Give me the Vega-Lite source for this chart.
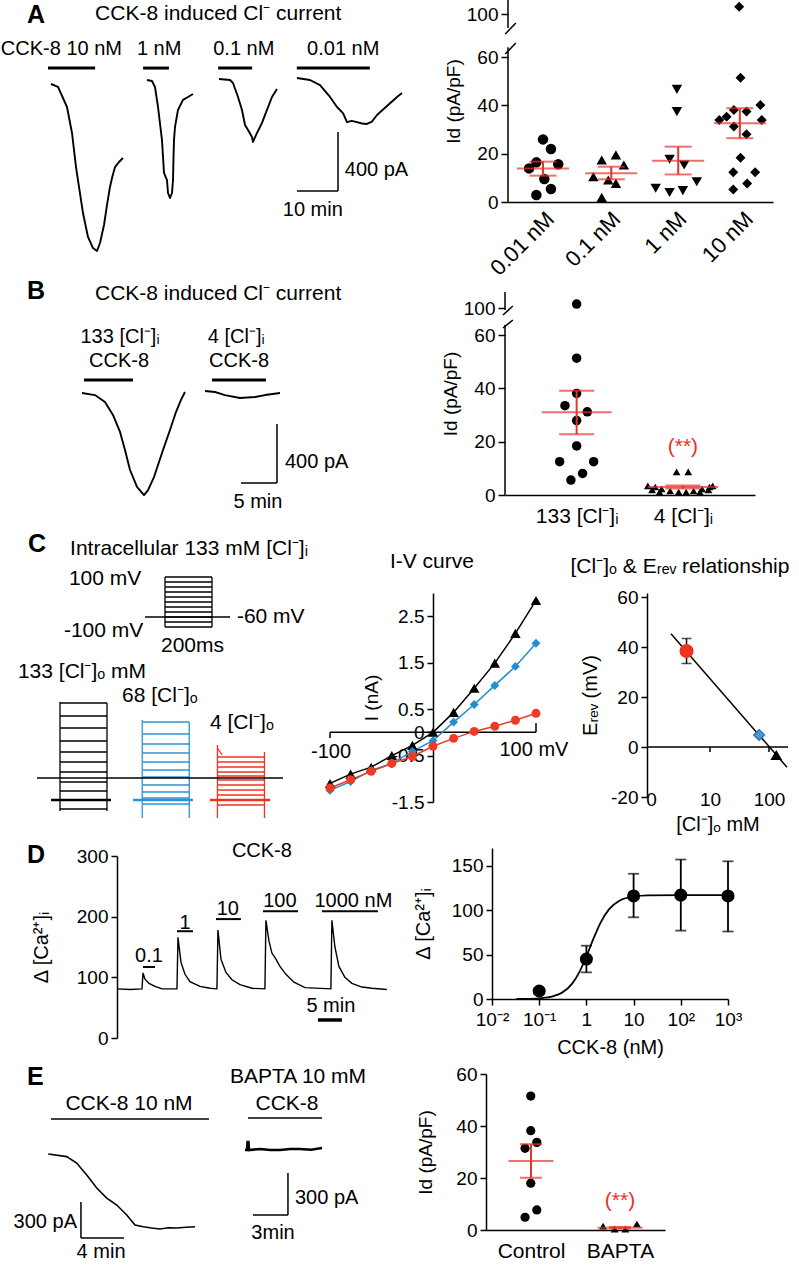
{
"$schema":"https://vega.github.io/schema/vega-lite/v6.json",
"width":799,"height":1265,"padding":0,"autosize":{"type":"none"},"background":"white",
"config":{"view":{"stroke":null},
"axis":{"grid":false,"labelFont":"Liberation Sans, Arial, sans-serif","labelFontSize":19,"labelColor":"black","titleFont":"Liberation Sans, Arial, sans-serif","titleFontSize":19,"titleFontWeight":"normal","titleColor":"black","domainColor":"black","domainWidth":1.5,"tickColor":"black","tickWidth":1.5,"tickSize":6,"labelFlush":false,"labelOverlap":false,"labelPadding":3},
"text":{"font":"Liberation Sans, Arial, sans-serif","fontSize":20,"color":"black"},
"point":{"filled":true,"color":"black","opacity":1,"strokeWidth":0}},
"resolve":{"scale":{"x":"independent","y":"independent"},"axis":{"x":"independent","y":"independent"}},
"layer":[
{"data":{"values":[
{"k":"tr","s":"a","min":12.44,"pA":0},{"k":"tr","s":"a","min":14.15,"pA":-20},{"k":"tr","s":"a","min":16.34,"pA":-156},{"k":"tr","s":"a","min":17.56,"pA":-332},{"k":"tr","s":"a","min":18.54,"pA":-563},{"k":"tr","s":"a","min":19.02,"pA":-651},{"k":"tr","s":"a","min":20.24,"pA":-875},{"k":"tr","s":"a","min":21.46,"pA":-1037},{"k":"tr","s":"a","min":22.68,"pA":-1112},{"k":"tr","s":"a","min":23.66,"pA":-1132},{"k":"tr","s":"a","min":24.39,"pA":-1078},{"k":"tr","s":"a","min":25.37,"pA":-956},{"k":"tr","s":"a","min":26.1,"pA":-820},{"k":"tr","s":"a","min":26.83,"pA":-698},{"k":"tr","s":"a","min":27.32,"pA":-637},{"k":"tr","s":"a","min":28.05,"pA":-563},{"k":"tr","s":"a","min":29.02,"pA":-529},{"k":"tr","s":"a","min":30.0,"pA":-502},
{"k":"tr","s":"b","min":35.85,"pA":27},{"k":"tr","s":"b","min":37.07,"pA":20},{"k":"tr","s":"b","min":37.8,"pA":-20},{"k":"tr","s":"b","min":38.54,"pA":-156},{"k":"tr","s":"b","min":39.51,"pA":-380},{"k":"tr","s":"b","min":40.0,"pA":-603},{"k":"tr","s":"b","min":40.73,"pA":-651},{"k":"tr","s":"b","min":40.98,"pA":-739},{"k":"tr","s":"b","min":41.46,"pA":-773},{"k":"tr","s":"b","min":41.95,"pA":-739},{"k":"tr","s":"b","min":42.2,"pA":-651},{"k":"tr","s":"b","min":42.3,"pA":-515},{"k":"tr","s":"b","min":42.44,"pA":-380},{"k":"tr","s":"b","min":42.68,"pA":-292},{"k":"tr","s":"b","min":43.41,"pA":-176},{"k":"tr","s":"b","min":44.63,"pA":-108},{"k":"tr","s":"b","min":45.85,"pA":-88},{"k":"tr","s":"b","min":47.07,"pA":-68},
{"k":"tr","s":"c","min":53.41,"pA":34},{"k":"tr","s":"c","min":56.1,"pA":27},{"k":"tr","s":"c","min":56.83,"pA":7},{"k":"tr","s":"c","min":58.05,"pA":-88},{"k":"tr","s":"c","min":59.02,"pA":-176},{"k":"tr","s":"c","min":59.76,"pA":-278},{"k":"tr","s":"c","min":60.49,"pA":-312},{"k":"tr","s":"c","min":61.46,"pA":-359},{"k":"tr","s":"c","min":61.71,"pA":-393},{"k":"tr","s":"c","min":62.68,"pA":-332},{"k":"tr","s":"c","min":63.9,"pA":-264},{"k":"tr","s":"c","min":65.12,"pA":-176},{"k":"tr","s":"c","min":66.34,"pA":-88},{"k":"tr","s":"c","min":67.56,"pA":-34},
{"k":"tr","s":"d","min":72.44,"pA":41},{"k":"tr","s":"d","min":75.61,"pA":27},{"k":"tr","s":"d","min":78.05,"pA":-7},{"k":"tr","s":"d","min":80.49,"pA":-88},{"k":"tr","s":"d","min":82.2,"pA":-156},{"k":"tr","s":"d","min":83.66,"pA":-197},{"k":"tr","s":"d","min":84.63,"pA":-258},{"k":"tr","s":"d","min":85.8,"pA":-250},{"k":"tr","s":"d","min":87.07,"pA":-258},{"k":"tr","s":"d","min":88.3,"pA":-268},{"k":"tr","s":"d","min":89.51,"pA":-271},{"k":"tr","s":"d","min":90.7,"pA":-255},{"k":"tr","s":"d","min":91.95,"pA":-210},{"k":"tr","s":"d","min":94.39,"pA":-149},{"k":"tr","s":"d","min":96.83,"pA":-88},{"k":"tr","s":"d","min":98.05,"pA":-61},
{"k":"bar","min":11.7,"min2":23.2,"pA":108,"pA2":108},{"k":"bar","min":34.9,"min2":41.2,"pA":108,"pA2":108},{"k":"bar","min":53.2,"min2":61.5,"pA":108,"pA2":108},{"k":"bar","min":72.4,"min2":90.2,"pA":108,"pA2":108},
{"k":"sb","min":82.44,"min2":82.44,"pA":-325,"pA2":-725},{"k":"sb","min":72.44,"min2":82.44,"pA":-725,"pA2":-725},
{"k":"let","txt":"A","min":6.6,"pA":414},
{"k":"ttl","txt":"CCK-8 induced Cl⁻ current","min":23.2,"pA":434},
{"k":"lab","txt":"CCK-8 10 nM","min":0.2,"pA":197},{"k":"lab","txt":"1 nM","min":33.4,"pA":197},{"k":"lab","txt":"0.1 nM","min":52.0,"pA":197},{"k":"lab","txt":"0.01 nM","min":74.9,"pA":197},
{"k":"lab","txt":"400 pA","min":84.1,"pA":-624},
{"k":"labc","txt":"10 min","min":76.3,"pA":-895}
]},
"encoding":{"x":{"field":"min","type":"quantitative","scale":{"domain":[0,100],"range":[0,410],"nice":false,"zero":false},"axis":null},
"y":{"field":"pA","type":"quantitative","scale":{"domain":[0,-1200],"range":[84,261],"nice":false,"zero":false},"axis":null}},
"layer":[
{"transform":[{"filter":"datum.k=='tr'"}],"mark":{"type":"line","color":"black","strokeWidth":1.9,"strokeJoin":"round"},"encoding":{"detail":{"field":"s","type":"nominal"}}},
{"transform":[{"filter":"datum.k=='bar'"}],"mark":{"type":"rule","color":"black","strokeWidth":3},"encoding":{"x2":{"field":"min2"},"y2":{"field":"pA2"}}},
{"transform":[{"filter":"datum.k=='sb'"}],"mark":{"type":"rule","color":"black","strokeWidth":1.5},"encoding":{"x2":{"field":"min2"},"y2":{"field":"pA2"}}},
{"transform":[{"filter":"datum.k=='let'"}],"mark":{"type":"text","align":"left","baseline":"alphabetic","fontSize":25,"fontWeight":"bold"},"encoding":{"text":{"field":"txt"}}},
{"transform":[{"filter":"datum.k=='ttl'"}],"mark":{"type":"text","align":"left","baseline":"alphabetic","fontSize":21},"encoding":{"text":{"field":"txt"}}},
{"transform":[{"filter":"datum.k=='lab'"}],"mark":{"type":"text","align":"left","baseline":"alphabetic","fontSize":20},"encoding":{"text":{"field":"txt"}}},
{"transform":[{"filter":"datum.k=='labc'"}],"mark":{"type":"text","align":"center","baseline":"alphabetic","fontSize":20},"encoding":{"text":{"field":"txt"}}}
]},

{"data":{"values":[
{"k":"p","g":"a","pos":-0.21,"Id":13.9},{"k":"p","g":"a","pos":-0.10,"Id":16.4},{"k":"p","g":"a","pos":0.0,"Id":25.9},{"k":"p","g":"a","pos":0.12,"Id":21.9},{"k":"p","g":"a","pos":0.23,"Id":15.6},{"k":"p","g":"a","pos":0.02,"Id":9.5},{"k":"p","g":"a","pos":0.12,"Id":5.4},{"k":"p","g":"a","pos":-0.10,"Id":2.9},
{"k":"p","g":"b","pos":0.886,"Id":17.4},{"k":"p","g":"b","pos":1.10,"Id":19.5},{"k":"p","g":"b","pos":1.22,"Id":15.3},{"k":"p","g":"b","pos":0.76,"Id":10.5},{"k":"p","g":"b","pos":0.985,"Id":9.1},{"k":"p","g":"b","pos":1.10,"Id":7.7},{"k":"p","g":"b","pos":0.886,"Id":1.9},
{"k":"p","g":"c","pos":2.02,"Id":46.6},{"k":"p","g":"c","pos":2.02,"Id":37.4},{"k":"p","g":"c","pos":1.91,"Id":17.7},{"k":"p","g":"c","pos":2.13,"Id":15.3},{"k":"p","g":"c","pos":1.70,"Id":5.7},{"k":"p","g":"c","pos":1.91,"Id":3.9},{"k":"p","g":"c","pos":2.11,"Id":4.7},{"k":"p","g":"c","pos":2.32,"Id":8.4},
{"k":"p","g":"d","pos":2.96,"Id":106.8},{"k":"p","g":"d","pos":2.98,"Id":51.4},{"k":"p","g":"d","pos":2.66,"Id":33.9},{"k":"p","g":"d","pos":2.77,"Id":35.3},{"k":"p","g":"d","pos":2.88,"Id":31.2},{"k":"p","g":"d","pos":2.88,"Id":38.1},{"k":"p","g":"d","pos":3.07,"Id":37.4},{"k":"p","g":"d","pos":3.28,"Id":40.1},{"k":"p","g":"d","pos":3.30,"Id":33.9},{"k":"p","g":"d","pos":3.07,"Id":28.0},{"k":"p","g":"d","pos":2.98,"Id":18.3},{"k":"p","g":"d","pos":2.87,"Id":12.3},{"k":"p","g":"d","pos":3.20,"Id":12.3},{"k":"p","g":"d","pos":3.08,"Id":7.7},{"k":"p","g":"d","pos":2.87,"Id":5.2},
{"k":"m","pos":0.0,"Id":13.9},{"k":"m","pos":1.03,"Id":11.9},{"k":"m","pos":2.04,"Id":17.1},{"k":"m","pos":2.97,"Id":32.6},
{"k":"c","pos":0.0,"Id":10.9},{"k":"c","pos":0.0,"Id":16.7},{"k":"c","pos":1.03,"Id":9.4},{"k":"c","pos":1.03,"Id":14.6},{"k":"c","pos":2.04,"Id":11.4},{"k":"c","pos":2.04,"Id":22.9},{"k":"c","pos":2.97,"Id":26.4},{"k":"c","pos":2.97,"Id":38.8},
{"k":"e","pos":0.0,"Id":10.9,"Id2":16.7},{"k":"e","pos":1.03,"Id":9.4,"Id2":14.6},{"k":"e","pos":2.04,"Id":11.4,"Id2":22.9},{"k":"e","pos":2.97,"Id":26.4,"Id2":38.8},
{"k":"ax","pos":-0.528,"pos2":-0.528,"Id":0,"Id2":69},{"k":"ax","pos":-0.528,"pos2":-0.528,"Id":87,"Id2":113},{"k":"ax","pos":-0.57,"pos2":-0.41,"Id":62.8,"Id2":73},{"k":"ax","pos":-0.57,"pos2":-0.41,"Id":81.4,"Id2":91.6}
]},
"encoding":{"x":{"field":"pos","type":"quantitative","scale":{"domain":[-0.528,3.47],"range":[508,773],"nice":false,"zero":false},
"axis":{"orient":"bottom","offset":-1063,"values":[0,1,2,3],"labelExpr":"['0.01 nM','0.1 nM','1 nM','10 nM'][datum.value]","labelAngle":-45,"labelFontSize":22,"ticks":false,"tickSize":0,"labelPadding":6,"title":null}},
"y":{"field":"Id","type":"quantitative","scale":{"domain":[0,60,100,113],"range":[202,57,14,0],"nice":false,"zero":false},
"axis":{"orient":"left","offset":-508,"values":[0,20,40,60,100],"domain":false,"tickSize":7,"title":"Id (pA/pF)","titlePadding":3}}},
"layer":[
{"transform":[{"filter":"datum.k=='ax'"}],"mark":{"type":"rule","color":"black","strokeWidth":1.5},"encoding":{"x2":{"field":"pos2"},"y2":{"field":"Id2"}}},
{"transform":[{"filter":"datum.g=='a'"}],"mark":{"type":"point","shape":"circle","size":110}},
{"transform":[{"filter":"datum.g=='b'"}],"mark":{"type":"point","shape":"triangle-up","size":110}},
{"transform":[{"filter":"datum.g=='c'"}],"mark":{"type":"point","shape":"triangle-down","size":110}},
{"transform":[{"filter":"datum.g=='d'"}],"mark":{"type":"point","shape":"diamond","size":100}},
{"transform":[{"filter":"datum.k=='e'"}],"mark":{"type":"rule","color":"#e8322b","strokeWidth":2},"encoding":{"y2":{"field":"Id2"}}},
{"transform":[{"filter":"datum.k=='m'"}],"mark":{"type":"tick","orient":"horizontal","color":"#e8322b","size":52,"thickness":2}},
{"transform":[{"filter":"datum.k=='c'"}],"mark":{"type":"tick","orient":"horizontal","color":"#e8322b","size":27,"thickness":2}}
]},

{"data":{"values":[
{"k":"tr","s":"a","min":11.39,"pA":0},{"k":"tr","s":"a","min":13.19,"pA":-14},{"k":"tr","s":"a","min":14.58,"pA":-61},{"k":"tr","s":"a","min":15.69,"pA":-149},{"k":"tr","s":"a","min":16.67,"pA":-264},{"k":"tr","s":"a","min":17.36,"pA":-386},{"k":"tr","s":"a","min":18.06,"pA":-522},{"k":"tr","s":"a","min":19.03,"pA":-637},{"k":"tr","s":"a","min":20.0,"pA":-692},{"k":"tr","s":"a","min":20.56,"pA":-658},{"k":"tr","s":"a","min":21.39,"pA":-570},{"k":"tr","s":"a","min":22.64,"pA":-386},{"k":"tr","s":"a","min":23.61,"pA":-251},{"k":"tr","s":"a","min":24.44,"pA":-129},{"k":"tr","s":"a","min":25.14,"pA":-47},{"k":"tr","s":"a","min":25.69,"pA":7},
{"k":"tr","s":"b","min":28.47,"pA":14},{"k":"tr","s":"b","min":29.86,"pA":7},{"k":"tr","s":"b","min":31.25,"pA":-14},{"k":"tr","s":"b","min":33.33,"pA":-34},{"k":"tr","s":"b","min":35.42,"pA":-27},{"k":"tr","s":"b","min":36.81,"pA":-14},{"k":"tr","s":"b","min":38.89,"pA":0},
{"k":"bar","min":11.67,"min2":18.47,"pA":88,"pA2":88},{"k":"bar","min":29.44,"min2":36.94,"pA":88,"pA2":88},
{"k":"sb","min":38.47,"min2":38.47,"pA":-210,"pA2":-610},{"k":"sb","min":33.47,"min2":38.47,"pA":-610,"pA2":-610},
{"k":"let","txt":"B","min":3.75,"pA":637},
{"k":"ttl","txt":"CCK-8 induced Cl⁻ current","min":13.19,"pA":631},
{"k":"labm","txt":"133 [Cl⁻]ᵢ","min":16.67,"pA":380},{"k":"labm","txt":"CCK-8","min":16.53,"pA":217},{"k":"labm","txt":"4 [Cl⁻]ᵢ","min":32.8,"pA":380},{"k":"labm","txt":"CCK-8","min":33.2,"pA":217},{"k":"labm","txt":"5 min","min":35.83,"pA":-739},
{"k":"labl","txt":"400 pA","min":39.58,"pA":-468}
]},
"encoding":{"x":{"field":"min","type":"quantitative","scale":{"domain":[0,50],"range":[0,360],"nice":false,"zero":false},"axis":null},
"y":{"field":"pA","type":"quantitative","scale":{"domain":[0,-1000],"range":[393,540.5],"nice":false,"zero":false},"axis":null}},
"layer":[
{"transform":[{"filter":"datum.k=='tr'"}],"mark":{"type":"line","color":"black","strokeWidth":1.9,"strokeJoin":"round"},"encoding":{"detail":{"field":"s","type":"nominal"}}},
{"transform":[{"filter":"datum.k=='bar'"}],"mark":{"type":"rule","color":"black","strokeWidth":3},"encoding":{"x2":{"field":"min2"},"y2":{"field":"pA2"}}},
{"transform":[{"filter":"datum.k=='sb'"}],"mark":{"type":"rule","color":"black","strokeWidth":1.5},"encoding":{"x2":{"field":"min2"},"y2":{"field":"pA2"}}},
{"transform":[{"filter":"datum.k=='let'"}],"mark":{"type":"text","align":"left","baseline":"alphabetic","fontSize":25,"fontWeight":"bold"},"encoding":{"text":{"field":"txt"}}},
{"transform":[{"filter":"datum.k=='ttl'"}],"mark":{"type":"text","align":"left","baseline":"alphabetic","fontSize":21},"encoding":{"text":{"field":"txt"}}},
{"transform":[{"filter":"datum.k=='labm'"}],"mark":{"type":"text","align":"center","baseline":"middle","fontSize":20},"encoding":{"text":{"field":"txt"}}},
{"transform":[{"filter":"datum.k=='labl'"}],"mark":{"type":"text","align":"left","baseline":"middle","fontSize":20},"encoding":{"text":{"field":"txt"}}}
]},

{"data":{"values":[
{"k":"p","g":"a","pos":0,"Id":105.9},{"k":"p","g":"a","pos":0,"Id":51.3},{"k":"p","g":"a","pos":0,"Id":38.1},{"k":"p","g":"a","pos":-0.11,"Id":33.5},{"k":"p","g":"a","pos":0.10,"Id":31.2},{"k":"p","g":"a","pos":0,"Id":27.9},{"k":"p","g":"a","pos":0,"Id":18.4},{"k":"p","g":"a","pos":-0.16,"Id":12.5},{"k":"p","g":"a","pos":0.16,"Id":12.5},{"k":"p","g":"a","pos":0.056,"Id":8.1},{"k":"p","g":"a","pos":-0.054,"Id":5.6},
{"k":"p","g":"b","pos":0.94,"Id":8.7},{"k":"p","g":"b","pos":1.05,"Id":8.7},{"k":"p","g":"b","pos":0.67,"Id":3.4},{"k":"p","g":"b","pos":0.74,"Id":3.0},{"k":"p","g":"b","pos":0.80,"Id":2.25},{"k":"p","g":"b","pos":0.88,"Id":1.5},{"k":"p","g":"b","pos":0.96,"Id":1.1},{"k":"p","g":"b","pos":1.03,"Id":1.1},{"k":"p","g":"b","pos":1.10,"Id":1.5},{"k":"p","g":"b","pos":1.18,"Id":2.25},{"k":"p","g":"b","pos":1.25,"Id":3.0},{"k":"p","g":"b","pos":1.28,"Id":3.4},{"k":"p","g":"b","pos":0.71,"Id":1.9},{"k":"p","g":"b","pos":0.78,"Id":1.1},{"k":"p","g":"b","pos":1.16,"Id":1.1},{"k":"p","g":"b","pos":1.24,"Id":1.9},
{"k":"m","pos":0,"Id":31.0},{"k":"m","pos":1.0,"Id":3.0},
{"k":"c","pos":0,"Id":22.8},{"k":"c","pos":0,"Id":39.1},{"k":"c","pos":1.0,"Id":2.4},{"k":"c","pos":1.0,"Id":3.6},
{"k":"e","pos":0,"Id":22.8,"Id2":39.1},{"k":"e","pos":1.0,"Id":2.4,"Id2":3.6},
{"k":"ax","pos":-0.674,"pos2":-0.674,"Id":0,"Id2":74.8},{"k":"ax","pos":-0.674,"pos2":-0.674,"Id":97,"Id2":124},{"k":"ax","pos":-0.693,"pos2":-0.60,"Id":70.4,"Id2":82.2},{"k":"ax","pos":-0.693,"pos2":-0.60,"Id":89.6,"Id2":103},
{"k":"st","txt":"(**)","pos":1.0,"Id":18}
]},
"encoding":{"x":{"field":"pos","type":"quantitative","scale":{"domain":[-0.674,1.678],"range":[505,755],"nice":false,"zero":false},
"axis":{"orient":"bottom","offset":-770,"values":[0,1],"labelExpr":"['133 [Cl⁻]ᵢ','4 [Cl⁻]ᵢ'][datum.value]","labelFontSize":21,"labelAngle":0,"ticks":false,"tickSize":0,"labelPadding":10,"title":null}},
"y":{"field":"Id","type":"quantitative","scale":{"domain":[0,60,100,124],"range":[495,335,308,292],"nice":false,"zero":false},
"axis":{"orient":"left","offset":-505,"values":[0,20,40,60,100],"domain":false,"tickSize":7,"title":"Id (pA/pF)","titlePadding":3}}},
"layer":[
{"transform":[{"filter":"datum.k=='ax'"}],"mark":{"type":"rule","color":"black","strokeWidth":1.5},"encoding":{"x2":{"field":"pos2"},"y2":{"field":"Id2"}}},
{"transform":[{"filter":"datum.g=='a'"}],"mark":{"type":"point","shape":"circle","size":90}},
{"transform":[{"filter":"datum.g=='b'"}],"mark":{"type":"point","shape":"triangle-up","size":60}},
{"transform":[{"filter":"datum.k=='e'"}],"mark":{"type":"rule","color":"#e8322b","strokeWidth":2},"encoding":{"y2":{"field":"Id2"}}},
{"transform":[{"filter":"datum.k=='m'"}],"mark":{"type":"tick","orient":"horizontal","color":"#e8322b","size":70,"thickness":2}},
{"transform":[{"filter":"datum.k=='c'"}],"mark":{"type":"tick","orient":"horizontal","color":"#e8322b","size":35,"thickness":2}},
{"transform":[{"filter":"datum.k=='st'"}],"mark":{"type":"text","align":"center","baseline":"middle","fontSize":21,"color":"#e8322b"},"encoding":{"text":{"field":"txt"}}}
]},

{"data":{"values":[
{"k":"st","ms":0,"ms2":200,"mV":-100,"mV2":-100},{"k":"st","ms":0,"ms2":200,"mV":-80,"mV2":-80},{"k":"st","ms":0,"ms2":200,"mV":-60,"mV2":-60},{"k":"st","ms":0,"ms2":200,"mV":-40,"mV2":-40},{"k":"st","ms":0,"ms2":200,"mV":-20,"mV2":-20},{"k":"st","ms":0,"ms2":200,"mV":0,"mV2":0},{"k":"st","ms":0,"ms2":200,"mV":20,"mV2":20},{"k":"st","ms":0,"ms2":200,"mV":40,"mV2":40},{"k":"st","ms":0,"ms2":200,"mV":60,"mV2":60},{"k":"st","ms":0,"ms2":200,"mV":80,"mV2":80},{"k":"st","ms":0,"ms2":200,"mV":100,"mV2":100},
{"k":"st","ms":0,"ms2":0,"mV":-100,"mV2":100},{"k":"st","ms":200,"ms2":200,"mV":-100,"mV2":100},{"k":"st","ms":-85,"ms2":277,"mV":-60,"mV2":-60},
{"k":"let","txt":"C","ms":-583,"mV":200},
{"k":"ttl","txt":"Intracellular 133 mM [Cl⁻]ᵢ","ms":-404,"mV":188},
{"k":"lab","txt":"100 mV","ms":-409,"mV":68},{"k":"lab","txt":"-100 mV","ms":-430,"mV":-140},{"k":"lab","txt":"-60 mV","ms":306,"mV":-84},{"k":"lab","txt":"200ms","ms":-17,"mV":-200}
]},
"encoding":{"x":{"field":"ms","type":"quantitative","scale":{"domain":[0,200],"range":[165,212],"nice":false,"zero":false},"axis":null},
"y":{"field":"mV","type":"quantitative","scale":{"domain":[-100,100],"range":[627,577],"nice":false,"zero":false},"axis":null}},
"layer":[
{"transform":[{"filter":"datum.k=='st'"}],"mark":{"type":"rule","color":"black","strokeWidth":1.3},"encoding":{"x2":{"field":"ms2"},"y2":{"field":"mV2"}}},
{"transform":[{"filter":"datum.k=='let'"}],"mark":{"type":"text","align":"left","baseline":"alphabetic","fontSize":25,"fontWeight":"bold"},"encoding":{"text":{"field":"txt"}}},
{"transform":[{"filter":"datum.k=='ttl'"}],"mark":{"type":"text","align":"left","baseline":"alphabetic","fontSize":21},"encoding":{"text":{"field":"txt"}}},
{"transform":[{"filter":"datum.k=='lab'"}],"mark":{"type":"text","align":"left","baseline":"alphabetic","fontSize":21},"encoding":{"text":{"field":"txt"}}}
]},

{"data":{"values":[
{"k":"swk","ms":0,"ms2":200,"nA":7.5,"nA2":7.5},{"k":"swk","ms":0,"ms2":200,"nA":6.2,"nA2":6.2},{"k":"swk","ms":0,"ms2":200,"nA":5.0,"nA2":5.0},{"k":"swk","ms":0,"ms2":200,"nA":3.7,"nA2":3.7},{"k":"swk","ms":0,"ms2":200,"nA":2.6,"nA2":2.6},{"k":"swk","ms":0,"ms2":200,"nA":1.6,"nA2":1.6},{"k":"swk","ms":0,"ms2":200,"nA":0.6,"nA2":0.6},{"k":"swk","ms":0,"ms2":200,"nA":-0.4,"nA2":-0.4},{"k":"swk","ms":0,"ms2":200,"nA":-1.3,"nA2":-1.3},{"k":"swk","ms":0,"ms2":200,"nA":-2.2,"nA2":-2.2},{"k":"swk","ms":0,"ms2":200,"nA":-3.1,"nA2":-3.1},
{"k":"swk","ms":0,"ms2":0,"nA":7.6,"nA2":-3.3},{"k":"swk","ms":200,"ms2":200,"nA":7.5,"nA2":-3.3},
{"k":"swb","ms":350,"ms2":550,"nA":5.6,"nA2":5.6},{"k":"swb","ms":350,"ms2":550,"nA":4.4,"nA2":4.4},{"k":"swb","ms":350,"ms2":550,"nA":3.4,"nA2":3.4},{"k":"swb","ms":350,"ms2":550,"nA":2.5,"nA2":2.5},{"k":"swb","ms":350,"ms2":550,"nA":1.6,"nA2":1.6},{"k":"swb","ms":350,"ms2":550,"nA":0.8,"nA2":0.8},{"k":"swb","ms":350,"ms2":550,"nA":0.1,"nA2":0.1},{"k":"swb","ms":350,"ms2":550,"nA":-0.7,"nA2":-0.7},{"k":"swb","ms":350,"ms2":550,"nA":-1.4,"nA2":-1.4},{"k":"swb","ms":350,"ms2":550,"nA":-2.0,"nA2":-2.0},{"k":"swb","ms":350,"ms2":550,"nA":-2.6,"nA2":-2.6},
{"k":"swb","ms":350,"ms2":350,"nA":5.8,"nA2":-4.0},{"k":"swb","ms":550,"ms2":550,"nA":5.6,"nA2":-4.0},
{"k":"swr","ms":670,"ms2":870,"nA":2.1,"nA2":2.1},{"k":"swr","ms":670,"ms2":870,"nA":1.6,"nA2":1.6},{"k":"swr","ms":670,"ms2":870,"nA":1.1,"nA2":1.1},{"k":"swr","ms":670,"ms2":870,"nA":0.6,"nA2":0.6},{"k":"swr","ms":670,"ms2":870,"nA":0.2,"nA2":0.2},{"k":"swr","ms":670,"ms2":870,"nA":-0.2,"nA2":-0.2},{"k":"swr","ms":670,"ms2":870,"nA":-0.7,"nA2":-0.7},{"k":"swr","ms":670,"ms2":870,"nA":-1.2,"nA2":-1.2},{"k":"swr","ms":670,"ms2":870,"nA":-1.7,"nA2":-1.7},{"k":"swr","ms":670,"ms2":870,"nA":-2.2,"nA2":-2.2},{"k":"swr","ms":670,"ms2":870,"nA":-2.7,"nA2":-2.7},
{"k":"swr","ms":670,"ms2":670,"nA":3.3,"nA2":-4.0},{"k":"swr","ms":870,"ms2":870,"nA":2.6,"nA2":-4.0},{"k":"swr","ms":670,"ms2":690,"nA":3.0,"nA2":2.3},
{"k":"hk","ms":-38,"ms2":217,"nA":-2.2,"nA2":-2.2},{"k":"hb","ms":311,"ms2":566,"nA":-2.2,"nA2":-2.2},{"k":"hr","ms":638,"ms2":894,"nA":-2.2,"nA2":-2.2},
{"k":"ref","ms":-98,"ms2":949,"nA":0,"nA2":0},
{"k":"lab","txt":"133 [Cl⁻]ₒ mM","ms":-179,"nA":10.0},{"k":"lab","txt":"68 [Cl⁻]ₒ","ms":264,"nA":7.6},{"k":"lab","txt":"4 [Cl⁻]ₒ","ms":638,"nA":4.9}
]},
"encoding":{"x":{"field":"ms","type":"quantitative","scale":{"domain":[0,200],"range":[60,107],"nice":false,"zero":false},"axis":null},
"y":{"field":"nA","type":"quantitative","scale":{"domain":[0,7.5],"range":[778,703],"nice":false,"zero":false},"axis":null}},
"layer":[
{"transform":[{"filter":"datum.k=='swk'"}],"mark":{"type":"rule","color":"black","strokeWidth":1.3},"encoding":{"x2":{"field":"ms2"},"y2":{"field":"nA2"}}},
{"transform":[{"filter":"datum.k=='swb'"}],"mark":{"type":"rule","color":"#2a93d5","strokeWidth":1.3},"encoding":{"x2":{"field":"ms2"},"y2":{"field":"nA2"}}},
{"transform":[{"filter":"datum.k=='swr'"}],"mark":{"type":"rule","color":"#f0321e","strokeWidth":1.3},"encoding":{"x2":{"field":"ms2"},"y2":{"field":"nA2"}}},
{"transform":[{"filter":"datum.k=='hk'"}],"mark":{"type":"rule","color":"black","strokeWidth":2.5},"encoding":{"x2":{"field":"ms2"},"y2":{"field":"nA2"}}},
{"transform":[{"filter":"datum.k=='hb'"}],"mark":{"type":"rule","color":"#2a93d5","strokeWidth":2.5},"encoding":{"x2":{"field":"ms2"},"y2":{"field":"nA2"}}},
{"transform":[{"filter":"datum.k=='hr'"}],"mark":{"type":"rule","color":"#f0321e","strokeWidth":2.5},"encoding":{"x2":{"field":"ms2"},"y2":{"field":"nA2"}}},
{"transform":[{"filter":"datum.k=='ref'"}],"mark":{"type":"rule","color":"black","strokeWidth":1.3},"encoding":{"x2":{"field":"ms2"},"y2":{"field":"nA2"}}},
{"transform":[{"filter":"datum.k=='lab'"}],"mark":{"type":"text","align":"left","baseline":"alphabetic","fontSize":21},"encoding":{"text":{"field":"txt"}}}
]},

{"data":{"values":[
{"k":"pt","s":"k","mV":-100,"nA":-1.10},{"k":"pt","s":"k","mV":-80,"nA":-0.90},{"k":"pt","s":"k","mV":-60,"nA":-0.75},{"k":"pt","s":"k","mV":-40,"nA":-0.50},{"k":"pt","s":"k","mV":-20,"nA":-0.28},{"k":"pt","s":"k","mV":0,"nA":0.0},{"k":"pt","s":"k","mV":20,"nA":0.43},{"k":"pt","s":"k","mV":40,"nA":0.95},{"k":"pt","s":"k","mV":60,"nA":1.49},{"k":"pt","s":"k","mV":80,"nA":2.13},{"k":"pt","s":"k","mV":100,"nA":2.84},
{"k":"pt","s":"b","mV":-100,"nA":-1.25},{"k":"pt","s":"b","mV":-80,"nA":-1.06},{"k":"pt","s":"b","mV":-60,"nA":-0.82},{"k":"pt","s":"b","mV":-40,"nA":-0.67},{"k":"pt","s":"b","mV":-20,"nA":-0.41},{"k":"pt","s":"b","mV":0,"nA":-0.18},{"k":"pt","s":"b","mV":20,"nA":0.22},{"k":"pt","s":"b","mV":40,"nA":0.60},{"k":"pt","s":"b","mV":60,"nA":1.01},{"k":"pt","s":"b","mV":80,"nA":1.42},{"k":"pt","s":"b","mV":100,"nA":1.92},
{"k":"pt","s":"r","mV":-100,"nA":-1.2},{"k":"pt","s":"r","mV":-80,"nA":-1.02},{"k":"pt","s":"r","mV":-60,"nA":-0.84},{"k":"pt","s":"r","mV":-40,"nA":-0.67},{"k":"pt","s":"r","mV":-20,"nA":-0.52},{"k":"pt","s":"r","mV":0,"nA":-0.30},{"k":"pt","s":"r","mV":20,"nA":-0.13},{"k":"pt","s":"r","mV":40,"nA":0.02},{"k":"pt","s":"r","mV":60,"nA":0.13},{"k":"pt","s":"r","mV":80,"nA":0.26},{"k":"pt","s":"r","mV":100,"nA":0.41},
{"k":"ax","mV":-100,"mV2":100,"nA":0,"nA2":0},{"k":"ax","mV":-100,"mV2":-100,"nA":0,"nA2":-0.12},{"k":"ax","mV":100,"mV2":100,"nA":0,"nA2":0.2},
{"k":"ttl","txt":"I-V curve","mV":-1,"nA":3.66},
{"k":"lab","txt":"-100","mV":-99,"nA":-0.43},{"k":"lab","txt":"100 mV","mV":98,"nA":-0.39}
]},
"encoding":{"x":{"field":"mV","type":"quantitative","scale":{"domain":[0,100],"range":[433,536],"nice":false,"zero":false},"axis":null},
"y":{"field":"nA","type":"quantitative","scale":{"domain":[-1.5,3.0],"range":[802,593],"nice":false,"zero":false},
"axis":{"orient":"left","offset":-433,"values":[-1.5,-0.5,0,0.5,1.5,2.5],"format":".1~f","labelExpr":"replace(datum.label,'−','-')","title":"I (nA)","titlePadding":10}}},
"layer":[
{"transform":[{"filter":"datum.k=='ax'"}],"mark":{"type":"rule","color":"black","strokeWidth":1.5},"encoding":{"x2":{"field":"mV2"},"y2":{"field":"nA2"}}},
{"transform":[{"filter":"datum.s=='k'"}],"mark":{"type":"line","color":"black","strokeWidth":1.5}},
{"transform":[{"filter":"datum.s=='b'"}],"mark":{"type":"line","color":"#1f8fd4","strokeWidth":1.5}},
{"transform":[{"filter":"datum.s=='r'"}],"mark":{"type":"line","color":"#f03a24","strokeWidth":1.5}},
{"transform":[{"filter":"datum.s=='k'"}],"mark":{"type":"point","shape":"triangle-up","size":110,"color":"black"}},
{"transform":[{"filter":"datum.s=='b'"}],"mark":{"type":"point","shape":"diamond","size":80,"color":"#1f8fd4"}},
{"transform":[{"filter":"datum.s=='r'"}],"mark":{"type":"point","shape":"circle","size":80,"color":"#f03a24"}},
{"transform":[{"filter":"datum.k=='ttl'"}],"mark":{"type":"text","align":"center","baseline":"middle","fontSize":21},"encoding":{"text":{"field":"txt"}}},
{"transform":[{"filter":"datum.k=='lab'"}],"mark":{"type":"text","align":"center","baseline":"middle","fontSize":20},"encoding":{"text":{"field":"txt"}}}
]},

{"data":{"values":[
{"k":"ax","Cl":0.855,"Cl2":210,"Erev":0,"Erev2":0},{"k":"ax","Cl":10,"Cl2":10,"Erev":0,"Erev2":-2},{"k":"ax","Cl":100,"Cl2":100,"Erev":0,"Erev2":-2},
{"k":"ln","Cl":2.18,"Erev":45.3},{"k":"ln","Cl":202,"Erev":-8.1},
{"k":"e","Cl":4,"Erev":33.4,"Erev2":43.4},
{"k":"c","Cl":4,"Erev":33.4},{"k":"c","Cl":4,"Erev":43.4},
{"k":"pr","Cl":4,"Erev":38.4},{"k":"pb","Cl":68,"Erev":4.8},{"k":"pk","Cl":133,"Erev":-3.2},
{"k":"ttl","txt":"[Cl⁻]ₒ & Eᵣₑᵥ relationship","Cl":3.1,"Erev":72}
]},
"encoding":{"x":{"field":"Cl","type":"quantitative","scale":{"type":"log","domain":[0.855,210],"range":[647,788],"nice":false,"zero":false},
"axis":{"orient":"bottom","offset":-478,"values":[1,10,100],"labelExpr":"datum.value < 5 ? '0' : datum.value < 50 ? '10' : '100'","domain":false,"ticks":false,"tickSize":0,"labelPadding":3,"title":"[Cl⁻]ₒ mM","titlePadding":5,"titleFontSize":20}},
"y":{"field":"Erev","type":"quantitative","scale":{"domain":[-20,61.6],"range":[797,593],"nice":false,"zero":false},
"axis":{"orient":"left","offset":-647,"values":[-20,0,20,40,60],"format":"d","labelExpr":"replace(datum.label,'−','-')","title":"Eᵣₑᵥ (mV)","titlePadding":10,"titleFontSize":20}}},
"layer":[
{"transform":[{"filter":"datum.k=='ax'"}],"mark":{"type":"rule","color":"black","strokeWidth":1.5},"encoding":{"x2":{"field":"Cl2"},"y2":{"field":"Erev2"}}},
{"transform":[{"filter":"datum.k=='ln'"}],"mark":{"type":"line","color":"black","strokeWidth":1.5}},
{"transform":[{"filter":"datum.k=='e'"}],"mark":{"type":"rule","color":"black","strokeWidth":1.5},"encoding":{"y2":{"field":"Erev2"}}},
{"transform":[{"filter":"datum.k=='c'"}],"mark":{"type":"tick","orient":"horizontal","color":"black","size":10,"thickness":1.5}},
{"transform":[{"filter":"datum.k=='pr'"}],"mark":{"type":"point","shape":"circle","size":200,"color":"#f0321e"}},
{"transform":[{"filter":"datum.k=='pb'"}],"mark":{"type":"point","shape":"diamond","size":120,"fill":"#4f97d2","stroke":"#2a6fa8","strokeWidth":1.2}},
{"transform":[{"filter":"datum.k=='pk'"}],"mark":{"type":"point","shape":"triangle-up","size":140,"color":"black"}},
{"transform":[{"filter":"datum.k=='ttl'"}],"mark":{"type":"text","align":"center","baseline":"middle","fontSize":21},"encoding":{"text":{"field":"txt"}}}
]},

{"data":{"values":[
{"k":"tr","min":0,"Ca":81},{"k":"tr","min":2.7,"Ca":80},{"k":"tr","min":5.21,"Ca":81},{"k":"tr","min":5.42,"Ca":107},{"k":"tr","min":5.83,"Ca":97},{"k":"tr","min":6.67,"Ca":90},{"k":"tr","min":7.92,"Ca":85},{"k":"tr","min":9.38,"Ca":81},
{"k":"tr","min":12.5,"Ca":81},{"k":"tr","min":12.71,"Ca":166},{"k":"tr","min":13.33,"Ca":125},{"k":"tr","min":14.17,"Ca":105},{"k":"tr","min":15.21,"Ca":93},{"k":"tr","min":17.29,"Ca":85},{"k":"tr","min":19.38,"Ca":82},
{"k":"tr","min":20.83,"Ca":81},{"k":"tr","min":21.04,"Ca":178},{"k":"tr","min":21.67,"Ca":130},{"k":"tr","min":22.71,"Ca":108},{"k":"tr","min":23.96,"Ca":96},{"k":"tr","min":25.63,"Ca":88},{"k":"tr","min":28.13,"Ca":82},
{"k":"tr","min":30.83,"Ca":81},{"k":"tr","min":31.04,"Ca":194},{"k":"tr","min":31.67,"Ca":160},{"k":"tr","min":32.29,"Ca":140},{"k":"tr","min":33.13,"Ca":130},{"k":"tr","min":33.96,"Ca":118},{"k":"tr","min":35.21,"Ca":105},{"k":"tr","min":36.88,"Ca":92},{"k":"tr","min":39.17,"Ca":83},
{"k":"tr","min":44.58,"Ca":81},{"k":"tr","min":44.79,"Ca":194},{"k":"tr","min":45.42,"Ca":150},{"k":"tr","min":46.25,"Ca":118},{"k":"tr","min":47.5,"Ca":100},{"k":"tr","min":48.96,"Ca":90},{"k":"tr","min":51.04,"Ca":84},{"k":"tr","min":53.13,"Ca":82},{"k":"tr","min":56.25,"Ca":80},
{"k":"bar","min":5.42,"min2":7.92,"Ca":117,"Ca2":117},{"k":"bar","min":12.5,"min2":15.83,"Ca":176,"Ca2":176},{"k":"bar","min":20.63,"min2":25.83,"Ca":196,"Ca2":196},{"k":"bar","min":30.42,"min2":37.71,"Ca":209,"Ca2":209},{"k":"bar","min":42.71,"min2":54.38,"Ca":209,"Ca2":209},
{"k":"sb","min":41.88,"min2":46.88,"Ca":29.7,"Ca2":29.7},
{"k":"let","txt":"D","min":-18.75,"Ca":288},
{"k":"labc","txt":"0.1","min":6.67,"Ca":125},{"k":"labc","txt":"1","min":14.17,"Ca":180},{"k":"labc","txt":"10","min":23.1,"Ca":203},{"k":"labc","txt":"100","min":33.96,"Ca":216},{"k":"labc","txt":"1000 nM","min":49.27,"Ca":216},
{"k":"labc","txt":"CCK-8","min":30.2,"Ca":298},{"k":"labc","txt":"5 min","min":44.58,"Ca":42.8}
]},
"encoding":{"x":{"field":"min","type":"quantitative","scale":{"domain":[0,56.9],"range":[117,390],"nice":false,"zero":false},"axis":null},
"y":{"field":"Ca","type":"quantitative","scale":{"domain":[0,300],"range":[1038,856],"nice":false,"zero":false},
"axis":{"orient":"left","offset":-117,"values":[0,100,200,300],"title":"Δ [Ca²⁺]ᵢ","titlePadding":25,"titleFontSize":20}}},
"layer":[
{"transform":[{"filter":"datum.k=='tr'"}],"mark":{"type":"line","color":"black","strokeWidth":1.4}},
{"transform":[{"filter":"datum.k=='bar'"}],"mark":{"type":"rule","color":"black","strokeWidth":2},"encoding":{"x2":{"field":"min2"},"y2":{"field":"Ca2"}}},
{"transform":[{"filter":"datum.k=='sb'"}],"mark":{"type":"rule","color":"black","strokeWidth":3.5},"encoding":{"x2":{"field":"min2"},"y2":{"field":"Ca2"}}},
{"transform":[{"filter":"datum.k=='let'"}],"mark":{"type":"text","align":"left","baseline":"alphabetic","fontSize":25,"fontWeight":"bold"},"encoding":{"text":{"field":"txt"}}},
{"transform":[{"filter":"datum.k=='labc'"}],"mark":{"type":"text","align":"center","baseline":"alphabetic","fontSize":20},"encoding":{"text":{"field":"txt"}}}
]},

{"data":{"values":[
{"k":"f","nM":0.033,"Ca":0.1},{"k":"f","nM":0.05,"Ca":0.2},{"k":"f","nM":0.1,"Ca":0.8},{"k":"f","nM":0.2,"Ca":3.2},{"k":"f","nM":0.3,"Ca":6.9},{"k":"f","nM":0.5,"Ca":17.3},{"k":"f","nM":0.7,"Ca":29.7},{"k":"f","nM":1,"Ca":48.0},{"k":"f","nM":1.5,"Ca":71.3},{"k":"f","nM":2,"Ca":86.0},{"k":"f","nM":3,"Ca":100.9},{"k":"f","nM":5,"Ca":110.6},{"k":"f","nM":7,"Ca":113.7},{"k":"f","nM":10,"Ca":115.3},{"k":"f","nM":20,"Ca":116.6},{"k":"f","nM":100,"Ca":117},{"k":"f","nM":1000,"Ca":117},
{"k":"e","nM":0.1,"Ca":6,"Ca2":12},{"k":"e","nM":1,"Ca":30,"Ca2":60},{"k":"e","nM":10,"Ca":92,"Ca2":141},{"k":"e","nM":100,"Ca":77,"Ca2":157},{"k":"e","nM":1000,"Ca":76,"Ca2":155},
{"k":"c","nM":0.1,"Ca":6},{"k":"c","nM":0.1,"Ca":12},{"k":"c","nM":1,"Ca":30},{"k":"c","nM":1,"Ca":60},{"k":"c","nM":10,"Ca":92},{"k":"c","nM":10,"Ca":141},{"k":"c","nM":100,"Ca":77},{"k":"c","nM":100,"Ca":157},{"k":"c","nM":1000,"Ca":76},{"k":"c","nM":1000,"Ca":155},
{"k":"p","nM":0.1,"Ca":9},{"k":"p","nM":1,"Ca":45},{"k":"p","nM":10,"Ca":116},{"k":"p","nM":100,"Ca":117},{"k":"p","nM":1000,"Ca":116}
]},
"encoding":{"x":{"field":"nM","type":"quantitative","scale":{"type":"log","domain":[0.01,1000],"range":[492,728],"nice":false,"zero":false},
"axis":{"orient":"bottom","offset":-266,"values":[0.01,0.1,1,10,100,1000],"labelExpr":"datum.value < 0.05 ? '10⁻²' : datum.value < 0.5 ? '10⁻¹' : datum.value < 5 ? '1' : datum.value < 50 ? '10' : datum.value < 500 ? '10²' : '10³'","labelPadding":5,"title":"CCK-8 (nM)","titlePadding":8,"titleFontSize":20}},
"y":{"field":"Ca","type":"quantitative","scale":{"domain":[0,170],"range":[999,848],"nice":false,"zero":false},
"axis":{"orient":"left","offset":-492,"values":[0,50,100,150],"title":"Δ [Ca²⁺]ᵢ","titlePadding":18,"titleFontSize":20}}},
"layer":[
{"transform":[{"filter":"datum.k=='f'"}],"mark":{"type":"line","color":"black","strokeWidth":1.8,"interpolate":"monotone"}},
{"transform":[{"filter":"datum.k=='e'"}],"mark":{"type":"rule","color":"black","strokeWidth":1.8},"encoding":{"y2":{"field":"Ca2"}}},
{"transform":[{"filter":"datum.k=='c'"}],"mark":{"type":"tick","orient":"horizontal","color":"black","size":11,"thickness":1.8}},
{"transform":[{"filter":"datum.k=='p'"}],"mark":{"type":"point","shape":"circle","size":170,"color":"black"}}
]},

{"data":{"values":[
{"k":"tr","min":4.49,"pA":0},{"k":"tr","min":6.2,"pA":-22},{"k":"tr","min":7.13,"pA":-75},{"k":"tr","min":8.07,"pA":-175},{"k":"tr","min":9.0,"pA":-283},{"k":"tr","min":9.93,"pA":-367},{"k":"tr","min":10.86,"pA":-425},{"k":"tr","min":11.79,"pA":-508},{"k":"tr","min":12.56,"pA":-592},{"k":"tr","min":13.33,"pA":-606},{"k":"tr","min":14.1,"pA":-617},{"k":"tr","min":14.88,"pA":-625},{"k":"tr","min":15.7,"pA":-615},{"k":"tr","min":16.44,"pA":-617},{"k":"tr","min":17.3,"pA":-610},{"k":"tr","min":18.14,"pA":-606},
{"k":"bar","min":4.74,"min2":19.44,"pA":292,"pA2":292},
{"k":"sb","min":7.53,"min2":7.53,"pA":-400,"pA2":-700},{"k":"sb","min":7.53,"min2":11.53,"pA":-700,"pA2":-700},
{"k":"let","txt":"E","min":2.51,"pA":575},
{"k":"labc","txt":"CCK-8 10 nM","min":12.0,"pA":367},
{"k":"labr","txt":"300 pA","min":7.16,"pA":-567},
{"k":"labm","txt":"4 min","min":9.4,"pA":-817}
]},
"encoding":{"x":{"field":"min","type":"quantitative","scale":{"domain":[0,20],"range":[0,215],"nice":false,"zero":false},"axis":null},
"y":{"field":"pA","type":"quantitative","scale":{"domain":[0,-1000],"range":[1154,1274],"nice":false,"zero":false},"axis":null}},
"layer":[
{"transform":[{"filter":"datum.k=='tr'"}],"mark":{"type":"line","color":"black","strokeWidth":1.6}},
{"transform":[{"filter":"datum.k=='bar'"}],"mark":{"type":"rule","color":"black","strokeWidth":1.5},"encoding":{"x2":{"field":"min2"},"y2":{"field":"pA2"}}},
{"transform":[{"filter":"datum.k=='sb'"}],"mark":{"type":"rule","color":"black","strokeWidth":1.5},"encoding":{"x2":{"field":"min2"},"y2":{"field":"pA2"}}},
{"transform":[{"filter":"datum.k=='let'"}],"mark":{"type":"text","align":"left","baseline":"alphabetic","fontSize":25,"fontWeight":"bold"},"encoding":{"text":{"field":"txt"}}},
{"transform":[{"filter":"datum.k=='labc'"}],"mark":{"type":"text","align":"center","baseline":"alphabetic","fontSize":21},"encoding":{"text":{"field":"txt"}}},
{"transform":[{"filter":"datum.k=='labr'"}],"mark":{"type":"text","align":"right","baseline":"middle","fontSize":20},"encoding":{"text":{"field":"txt"}}},
{"transform":[{"filter":"datum.k=='labm'"}],"mark":{"type":"text","align":"center","baseline":"middle","fontSize":20},"encoding":{"text":{"field":"txt"}}}
]},

{"data":{"values":[
{"k":"tr","min":0.43,"pA":-7},{"k":"tr","min":0.6,"pA":-7},{"k":"tr","min":0.65,"pA":50},{"k":"tr","min":0.72,"pA":50},{"k":"tr","min":0.77,"pA":-7},{"k":"tr","min":1.71,"pA":0},{"k":"tr","min":2.6,"pA":-7},{"k":"tr","min":3.43,"pA":-7},{"k":"tr","min":4.3,"pA":0},{"k":"tr","min":5.14,"pA":0},{"k":"tr","min":6.1,"pA":-5},{"k":"tr","min":7.03,"pA":7},
{"k":"bar","min":0.69,"min2":7.03,"pA":221,"pA2":221},
{"k":"sb","min":4.11,"min2":4.11,"pA":-171,"pA2":-471},{"k":"sb","min":1.11,"min2":4.11,"pA":-471,"pA2":-471},
{"k":"labc","txt":"BAPTA 10 mM","min":4.97,"pA":471},{"k":"labc","txt":"CCK-8","min":4.03,"pA":279},
{"k":"labl","txt":"300 pA","min":4.71,"pA":-350},
{"k":"labm","txt":"3min","min":2.83,"pA":-600}
]},
"encoding":{"x":{"field":"min","type":"quantitative","scale":{"domain":[0,10],"range":[240,356.7],"nice":false,"zero":false},"axis":null},
"y":{"field":"pA","type":"quantitative","scale":{"domain":[0,-1000],"range":[1149,1289],"nice":false,"zero":false},"axis":null}},
"layer":[
{"transform":[{"filter":"datum.k=='tr'"}],"mark":{"type":"line","color":"black","strokeWidth":2.6}},
{"transform":[{"filter":"datum.k=='bar'"}],"mark":{"type":"rule","color":"black","strokeWidth":1.5},"encoding":{"x2":{"field":"min2"},"y2":{"field":"pA2"}}},
{"transform":[{"filter":"datum.k=='sb'"}],"mark":{"type":"rule","color":"black","strokeWidth":1.5},"encoding":{"x2":{"field":"min2"},"y2":{"field":"pA2"}}},
{"transform":[{"filter":"datum.k=='labc'"}],"mark":{"type":"text","align":"center","baseline":"alphabetic","fontSize":21},"encoding":{"text":{"field":"txt"}}},
{"transform":[{"filter":"datum.k=='labl'"}],"mark":{"type":"text","align":"left","baseline":"middle","fontSize":20},"encoding":{"text":{"field":"txt"}}},
{"transform":[{"filter":"datum.k=='labm'"}],"mark":{"type":"text","align":"center","baseline":"middle","fontSize":20},"encoding":{"text":{"field":"txt"}}}
]},

{"data":{"values":[
{"k":"p","g":"a","pos":-0.003,"Id":51.5},{"k":"p","g":"a","pos":-0.003,"Id":38.2},{"k":"p","g":"a","pos":0.065,"Id":33.7},{"k":"p","g":"a","pos":-0.067,"Id":31.4},{"k":"p","g":"a","pos":-0.003,"Id":18.0},{"k":"p","g":"a","pos":0.065,"Id":7.7},{"k":"p","g":"a","pos":-0.067,"Id":4.9},
{"k":"p","g":"b","pos":0.81,"Id":1.5},{"k":"p","g":"b","pos":0.94,"Id":0.3},{"k":"p","g":"b","pos":1.06,"Id":0.3},{"k":"p","g":"b","pos":1.19,"Id":2.3},
{"k":"m","pos":0,"Id":26.5},{"k":"m","pos":1.0,"Id":0.9},
{"k":"c","pos":0,"Id":20.1},{"k":"c","pos":0,"Id":33.0},{"k":"c","pos":1.0,"Id":0.6},{"k":"c","pos":1.0,"Id":1.2},
{"k":"e","pos":0,"Id":20.1,"Id2":33.0},{"k":"e","pos":1.0,"Id":0.6,"Id2":1.2},
{"k":"st","txt":"(**)","pos":1.0,"Id":11.3}
]},
"encoding":{"x":{"field":"pos","type":"quantitative","scale":{"domain":[-0.506,1.506],"range":[486,665],"nice":false,"zero":false},
"axis":{"orient":"bottom","offset":-35,"values":[0,1],"labelExpr":"['Control','BAPTA'][datum.value]","labelFontSize":21,"labelAngle":0,"ticks":false,"tickSize":0,"labelPadding":10,"title":null}},
"y":{"field":"Id","type":"quantitative","scale":{"domain":[0,60],"range":[1230,1074],"nice":false,"zero":false},
"axis":{"orient":"left","offset":-486,"values":[0,20,40,60],"title":"Id (pA/pF)","titlePadding":20}}},
"layer":[
{"transform":[{"filter":"datum.g=='a'"}],"mark":{"type":"point","shape":"circle","size":85}},
{"transform":[{"filter":"datum.g=='b'"}],"mark":{"type":"point","shape":"triangle-up","size":60}},
{"transform":[{"filter":"datum.k=='e'"}],"mark":{"type":"rule","color":"#e8322b","strokeWidth":2},"encoding":{"y2":{"field":"Id2"}}},
{"transform":[{"filter":"datum.k=='m'"}],"mark":{"type":"tick","orient":"horizontal","color":"#e8322b","size":45,"thickness":2}},
{"transform":[{"filter":"datum.k=='c'"}],"mark":{"type":"tick","orient":"horizontal","color":"#e8322b","size":22,"thickness":2}},
{"transform":[{"filter":"datum.k=='st'"}],"mark":{"type":"text","align":"center","baseline":"middle","fontSize":21,"color":"#e8322b"},"encoding":{"text":{"field":"txt"}}}
]}
]
}
